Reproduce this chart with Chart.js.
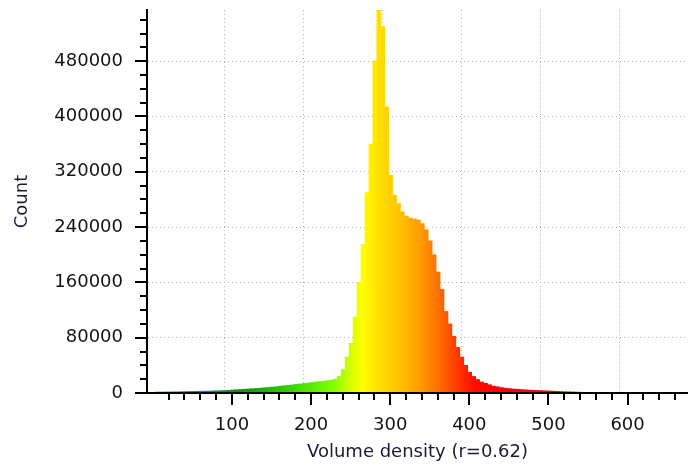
<!DOCTYPE html>
<html>
<head>
<meta charset="utf-8">
<script src="https://cdn.jsdelivr.net/npm/chart.js@4/dist/chart.umd.min.js"></script>
<style>
  html, body { margin: 0; padding: 0; background: #fff; }
  #wrap { width: 688px; height: 470px; }
</style>
</head>
<body>
<div id="wrap"><canvas id="histChart"></canvas></div>
<script>
// histogram bins: start 3, width 5
const binStart = 3;
const binWidth = 5;
const counts = [
  1500, 1500, 1600, 1700, 1800, 1900, 2000, 2200, 2300, 2400,
  2500, 2600, 2700, 2800, 3000, 3200, 3400, 3600, 3900, 4300,
  4700, 5000, 5400, 5800, 6200, 6600, 7000, 7500, 8000, 8500,
  9000, 9800, 10500, 11000, 11600, 12400, 13000, 13600, 14200, 15000,
  15800, 16400, 17000, 17800, 18600, 20000, 24000, 34000, 52000, 72000,
  110000, 160000, 215000, 290000, 360000, 480000, 565000, 530000, 414000, 315000,
  286000, 274000, 262000, 256000, 253000, 252000, 250000, 245000, 236000, 220000,
  200000, 175000, 150000, 118000, 100000, 82000, 66000, 52000, 40000, 30000,
  24000, 19500, 16000, 14000, 12000, 10000, 9000, 7800, 7000, 6400,
  5800, 5400, 5000, 4600, 4300, 4000, 3700, 3400, 3200, 3000,
  2700, 2400, 2100, 1900, 1700, 1500, 1300, 1100, 1000, 900,
  800, 700, 650, 600, 550, 500, 450, 400, 380, 350,
  320, 300, 280, 260, 240, 220, 200, 180, 160, 150,
  140, 130, 120
];

const xMin = 3;
const xMax = 666;
const yMax = 554000;
const xMajorTicks = [100, 200, 300, 400, 500, 600];
const xMinorStep = 20;
const yMajorTicks = [0, 80000, 160000, 240000, 320000, 400000, 480000];
const yMinorStep = 20000;

const xTitle = "Volume density (r=0.62)";
const yTitle = "Count";

// colour along the x axis
const colorStops = [
  [3, "#8080f0"], [55, "#4070b0"], [105, "#108a20"], [160, "#28c400"],
  [205, "#5cf000"], [228, "#80ff00"], [246, "#c8ff00"], [264, "#ffff00"],
  [285, "#ffe000"], [307, "#ffc800"], [338, "#ff9c00"], [362, "#ff6c00"],
  [387, "#ff3400"], [405, "#ff1000"], [430, "#ff0000"], [666, "#ff0000"]
];

const points = counts.map((c, i) => ({ x: binStart + binWidth * i + binWidth / 2, y: c }));

const barGradient = (ctx) => {
  const chart = ctx.chart;
  if (!chart.chartArea) return "#ffcc00";
  const xs = chart.scales.x;
  const p0 = xs.getPixelForValue(colorStops[0][0]);
  const p1 = xs.getPixelForValue(colorStops[colorStops.length - 1][0]);
  const g = chart.ctx.createLinearGradient(p0, 0, p1, 0);
  colorStops.forEach(([v, col]) => {
    g.addColorStop((xs.getPixelForValue(v) - p0) / (p1 - p0), col);
  });
  return g;
};

const buildTicks = (min, max, step) => {
  const out = [];
  for (let v = Math.ceil(min / step) * step; v <= max; v += step) {
    if (v > min) out.push({ value: v });
  }
  return out;
};

//tick marks, long on major, short on minor
const tickMarks = {
  id: "tickMarks",
  afterDraw(chart) {
    const { ctx, scales: { x, y } } = chart;
    ctx.save();
    ctx.strokeStyle = "#000";
    ctx.lineWidth = 2;
    ctx.beginPath();
    x.ticks.forEach((t) => {
      const px = Math.round(x.getPixelForValue(t.value));
      const len = xMajorTicks.includes(t.value) ? 12 : 7;
      ctx.moveTo(px, x.top);
      ctx.lineTo(px, x.top + len);
    });
    y.ticks.forEach((t) => {
      const py = Math.round(y.getPixelForValue(t.value));
      const len = yMajorTicks.includes(t.value) ? 12 : 7;
      ctx.moveTo(y.right, py);
      ctx.lineTo(y.right - len, py);
    });
    ctx.stroke();
    ctx.restore();
  },
};

const tickFont = { family: "DejaVu Sans", size: 18 };

new Chart(document.getElementById("histChart"), {
  type: "bar",
  data: {
    datasets: [
      {
        data: points,
        backgroundColor: barGradient,
        borderWidth: 0,
        barPercentage: 1,
        categoryPercentage: 1,
      },
    ],
  },
  options: {
    responsive: true,
    maintainAspectRatio: false,
    animation: false,
    layout: { padding: { top: 10, right: 0, left: 0, bottom: 0 } },
    plugins: { legend: { display: false }, tooltip: { enabled: false } },
    scales: {
      x: {
        type: "linear",
        min: xMin,
        max: xMax,
        afterBuildTicks: (scale) => {
          scale.ticks = buildTicks(xMin, xMax, xMinorStep);
        },
        afterFit: (scale) => {
          scale.height = 77;
          scale.paddingLeft = 0;
          scale.paddingRight = 0;
        },
        ticks: {
          autoSkip: false,
          maxRotation: 0,
          padding: 22,
          color: "#141414",
          font: tickFont,
          callback: (v) => (xMajorTicks.includes(v) ? String(v) : ""),
        },
        grid: {
          drawTicks: false,
          lineWidth: 1,
          color: (c) => (c.tick && xMajorTicks.includes(c.tick.value) ? "#b0b0b0" : "rgba(0,0,0,0)"),
        },
        border: { color: "#000", width: 2, dash: [1, 3], z: 1 },
        title: {
          display: true,
          text: xTitle,
          color: "#1a1a30",
          font: tickFont,
          padding: { top: 4, bottom: 7 },
        },
      },
      y: {
        min: 0,
        max: yMax,
        afterBuildTicks: (scale) => {
          scale.ticks = [{ value: 0 }].concat(buildTicks(0, yMax, yMinorStep));
        },
        afterFit: (scale) => {
          scale.width = 147;
          scale.paddingTop = 0;
          scale.paddingBottom = 0;
        },
        ticks: {
          autoSkip: false,
          padding: 24,
          color: "#141414",
          font: tickFont,
          callback: (v) => (yMajorTicks.includes(v) ? String(v) : ""),
        },
        grid: {
          drawTicks: false,
          lineWidth: 1,
          color: (c) => (c.tick && c.tick.value !== 0 && yMajorTicks.includes(c.tick.value) ? "#b0b0b0" : "rgba(0,0,0,0)"),
        },
        border: { color: "#000", width: 2, dash: [1, 3], z: 1 },
        title: {
          display: true,
          text: yTitle,
          color: "#1a1a30",
          font: tickFont,
          padding: { top: 12, bottom: 0 },
        },
      },
    },
  },
  plugins: [tickMarks],
});
</script>
</body>
</html>
